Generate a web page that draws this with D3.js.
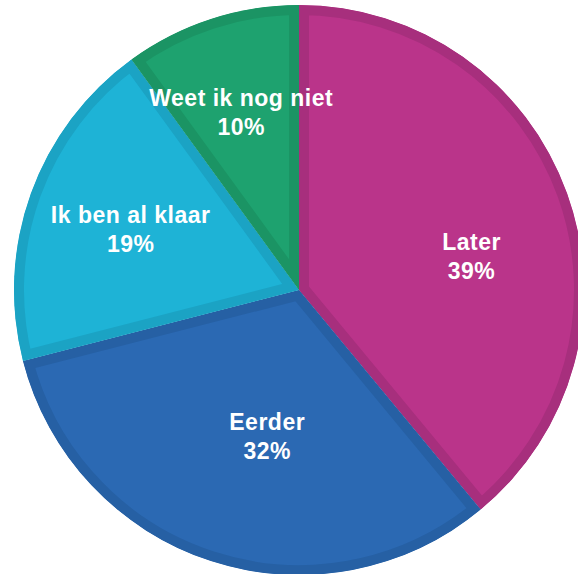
<!DOCTYPE html>
<html>
<head>
<meta charset="utf-8">
<script src="https://cdn.jsdelivr.net/npm/d3@7"></script>
<style>
  html, body { margin: 0; padding: 0; background: #fff; }
  svg { display: block; }
  .label { font-family: "Liberation Sans", Arial, sans-serif; font-weight: bold; font-size: 23px; letter-spacing: 0.5px; fill: #fff; }
</style>
</head>
<body>
<svg width="578" height="574"></svg>
<script>
var categories = ['Later', 'Eerder', 'Ik ben al klaar', 'Weet ik nog niet'];
var values = [39, 32, 19, 10];
var fills = ['#BA348A', '#2B69B3', '#1EB3D6', '#1EA26F'];
var borders = ['#A72F7D', '#2660A4', '#1BA3C4', '#1B9464'];

var svg = d3.select('svg');
var cx = 299, cy = 290, radius = 285;

var data = categories.map(function (c, i) {
    return {name: c, value: values[i], fill: fills[i], border: borders[i]};
});

var pie = d3.pie()
    .sort(null)
    .value(function (d) { return d.value; })
;

var arc = d3.arc()
    .innerRadius(0)
    .outerRadius(radius)
;

var arcs = pie(data);

// label near the area centroid of each sector, pushed out a bit for the widest slice
function labelPos(d) {
    var half = (d.endAngle - d.startAngle) / 2;
    var mid = d.startAngle + half;
    var r = 2 * radius * Math.sin(half) / (3 * half);
    if (half > 1.1) {
        r += 30;
        mid += 0.15;
    } else if (half > 0.9) {
        r -= 10;
        mid -= 0.1;
    }
    return [r * Math.sin(mid), -r * Math.cos(mid)];
}

var defs = svg.append('defs');
defs.selectAll('clipPath')
    .data(arcs)
    .enter()
    .append('clipPath')
        .attr('id', function (d, i) { return 'clip' + i; })
    .append('path')
        .attr('d', arc)
;

var g = svg.append('g')
    .attr('transform', 'translate(' + cx + ',' + cy + ')')
;

var slice = g.selectAll('.slice')
    .data(arcs)
    .enter()
    .append('g')
        .attr('class', 'slice')
;

slice.append('path')
    .attr('d', arc)
    .attr('fill', function (d) { return d.data.fill; })
    .attr('stroke', function (d) { return d.data.border; })
    .attr('stroke-width', 20)
    .attr('stroke-linejoin', 'miter')
    .attr('clip-path', function (d, i) { return 'url(#clip' + i + ')'; })
;

var label = g.selectAll('.label')
    .data(arcs)
    .enter()
    .append('text')
        .attr('class', 'label')
        .attr('text-anchor', 'middle')
        .attr('transform', function (d) {
            var c = labelPos(d);
            return 'translate(' + c[0] + ',' + c[1] + ')';
        })
;

label.append('tspan')
    .attr('x', 0)
    .attr('y', -6)
    .text(function (d) { return d.data.name; })
;

label.append('tspan')
    .attr('x', 0)
    .attr('y', 23)
    .text(function (d) { return d.data.value + '%'; })
;
</script>
</body>
</html>
